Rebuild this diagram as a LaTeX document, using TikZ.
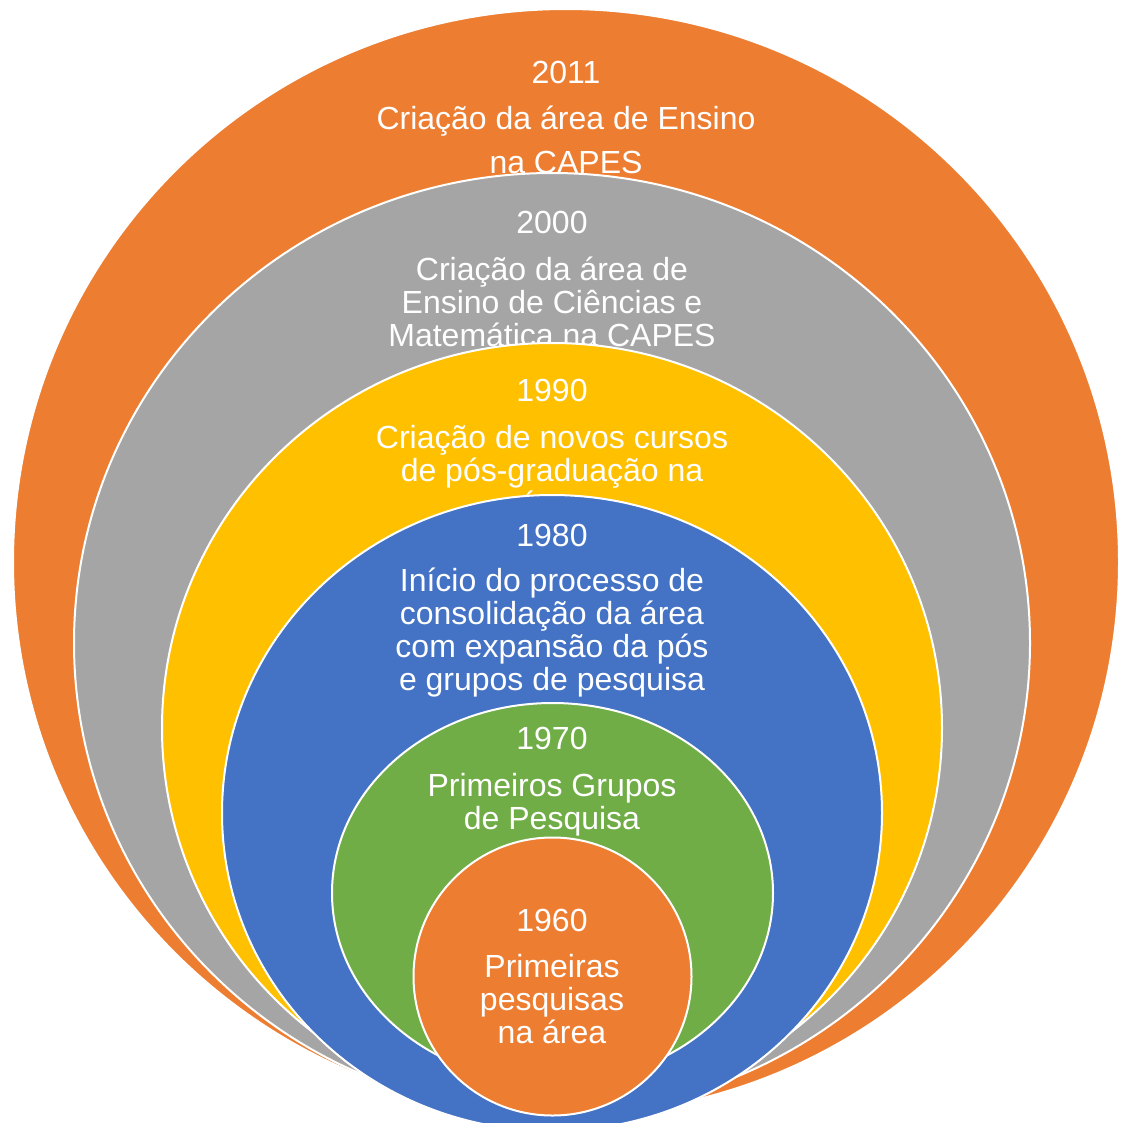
\documentclass[tikz,border=0pt]{standalone}
\usepackage{fontspec}
\setmainfont{Liberation Sans}
\usetikzlibrary{shapes.geometric}
\definecolor{laranja}{HTML}{ED7D31}
\definecolor{cinza}{HTML}{A5A5A5}
\definecolor{amarelo}{HTML}{FFC000}
\definecolor{azul}{HTML}{4472C4}
\definecolor{verde}{HTML}{70AD47}
\tikzstyle{r}=[ellipse,draw=white,line width=2pt,inner sep=0,outer sep=0]
\tikzstyle{t}=[text=white,align=center,anchor=north,inner sep=0,font=\fontsize{32}{33}\selectfont]

\begin{document}
\begin{tikzpicture}[x=1pt,y=-1pt]

                        \useasboundingbox (0,0) rectangle (1127,1122);

                        % outer to inner, each text before the next ring
                        \node[r,fill=laranja,minimum width=1106pt,minimum height=1106pt] (a) at (566,562) {};
                        \node[t] (ta) at (566,61) {2011\\[13pt]Criação da área de Ensino\\[11pt]na CAPES};

                        \node[r,fill=cinza,minimum width=956pt,minimum height=940pt] (b) at (552,643) {};
                        \node[t] (tb) at (552,210.5) {2000\\[14pt]Criação da área de\\Ensino de Ciências e\\Matemática na CAPES};

                        \node[r,fill=amarelo,minimum width=780pt,minimum height=770pt] (c) at (552,728) {};
                        \node[t] (tc) at (552,378.5) {1990\\[14pt]Criação de novos cursos\\de pós-graduação na\\área};

                        \node[r,fill=azul,minimum width=660pt,minimum height=636pt] (d) at (552,813) {};
                        \node[t] (td) at (552,523.5) {1980\\[12pt]Início do processo de\\consolidação da área\\com expansão da pós\\e grupos de pesquisa};

                        \node[r,fill=verde,minimum width=441pt,minimum height=380pt] (e) at (552.5,893) {};
                        \node[t] (te) at (552,726.5) {1970\\[14pt]Primeiros Grupos\\de Pesquisa};

                        \node[r,fill=laranja,minimum width=278pt,minimum height=278pt] (f) at (552.5,976.5) {};
                        \node[t] (tf) at (552,908.5) {1960\\[13pt]Primeiras\\pesquisas\\na área};

\end{tikzpicture}
\end{document}
